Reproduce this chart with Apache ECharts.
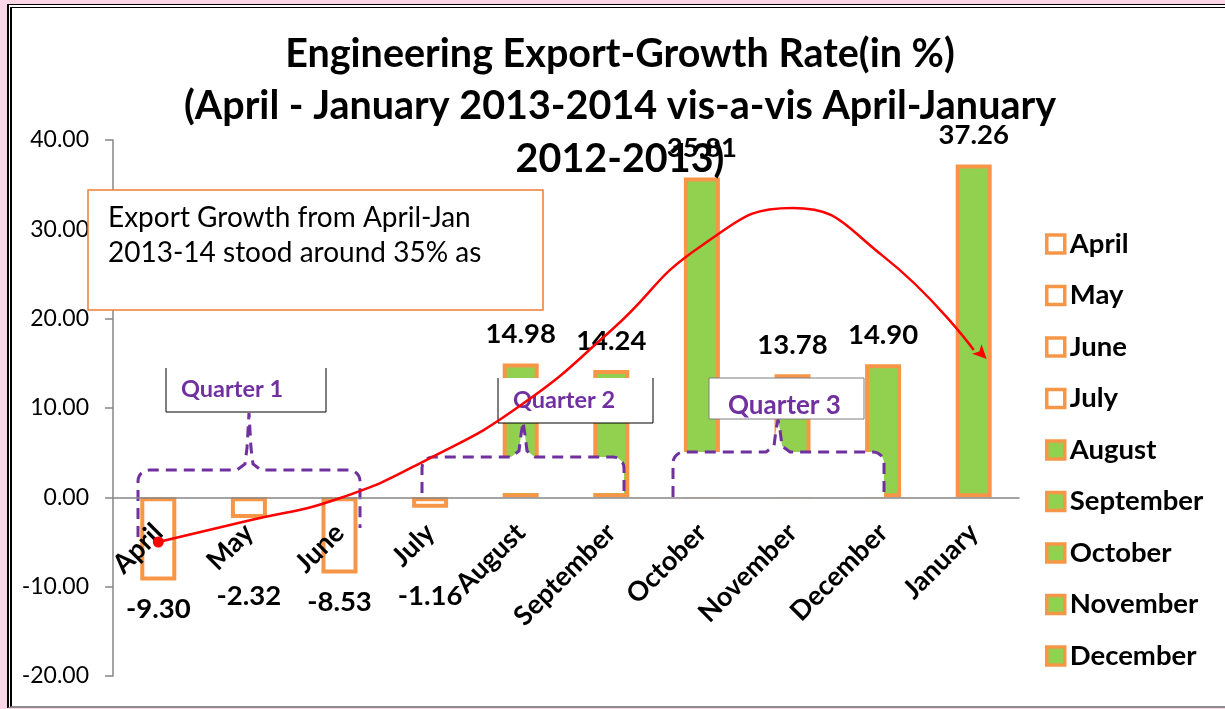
<!DOCTYPE html>
<html>
<head>
<meta charset="utf-8">
<script src="https://cdn.jsdelivr.net/npm/echarts@6/dist/echarts.min.js"></script>
<style>
    html, body { margin: 0; padding: 0; background: #fcd5e7; }
    #panel {
        position: absolute; left: 7px; top: 4px; width: 1230px; height: 698px;
        background: #fff;
        border-left: 5px double #000;
        border-top: 4px double #000;
        border-bottom: 2px solid #8c8c8c;
    }
    #chart { position: absolute; left: 0; top: 0; width: 1225px; height: 709px; }
</style>
</head>
<body>
<div id="panel"></div>
<div id="chart"></div>
<script>
// 数据
const months = ['April', 'May', 'June', 'July', 'August', 'September', 'October', 'November', 'December', 'January'];
const growth = [-9.30, -2.32, -8.53, -1.16, 14.98, 14.24, 35.81, 13.78, 14.90, 37.26];
// hand drawn red trend curve, read at each month
const trend = [-5.0, -2.6, -0.1, 4.4, 10.3, 18.7, 28.2, 32.4, 27.0, 16.5];
const legendMonths = months.slice(0, 9);

const ORANGE = '#f79646';
const GREEN = '#92d050';
const PURPLE = '#7030a0';
const FONT = 'Lato';

const yMin = -20, yMax = 40, yStep = 10;
const gridTop = 140, gridBottom = 33;
const unitPx = (709 - gridTop - gridBottom) / (yMax - yMin);

var myChart = echarts.init(document.getElementById('chart'));

// 标签位置: 负值放在柱子下方, 但不要压住月份名
function barLabel(v) {
    var style = {
        show: true,
        fontFamily: FONT,
        fontWeight: 'bold',
        fontSize: 27.5,
        color: '#000',
        formatter: function (p) { return p.value.toFixed(2); }
    };
    if (v >= 0) {
        style.position = 'top';
        style.distance = 15;
    } else {
        style.position = 'bottom';
        style.distance = Math.max(15, 85 - Math.abs(v) * unitPx);
    }
    return style;
}

// 大括号 (虚线), 圆角用几个点近似
function bracePoints(xl, xr, yTop, yEndL, yEndR, xPeak, yPeak) {
    var r = 11, pts = [];
    pts.push([xl, yEndL]);
    for (var k = 0; k <= 6; k++) {
        var a = Math.PI - k * Math.PI / 12;
        pts.push([xl + r + r * Math.cos(a), yTop + r - r * Math.sin(a)]);
    }
    pts.push([xPeak - 12, yTop]);
    pts.push([xPeak - 4, yTop - 6]);
    pts.push([xPeak - 2, yTop - 22]);
    pts.push([xPeak, yPeak]);
    pts.push([xPeak + 2, yTop - 22]);
    pts.push([xPeak + 4, yTop - 6]);
    pts.push([xPeak + 12, yTop]);
    for (var k2 = 0; k2 <= 6; k2++) {
        var b = Math.PI / 2 - k2 * Math.PI / 12;
        pts.push([xr - r + r * Math.cos(b), yTop + r - r * Math.sin(b)]);
    }
    pts.push([xr, yEndR]);
    return pts;
}

var series = months.map(function (m, i) {
    var v = growth[i];
    return {
        name: m,
        type: 'bar',
        barWidth: 36,
        barGap: '-100%',
        z: 2,
        itemStyle: {
            color: v < 0 ? '#fff' : GREEN,
            borderColor: ORANGE,
            borderWidth: 4
        },
        label: barLabel(v),
        data: months.map(function (_, j) { return j === i ? v : '-'; })
    };
});

series.push({
    name: 'trend',
    type: 'line',
    smooth: 0.5,
    z: 30,
    symbol: 'none',
    silent: true,
    lineStyle: { color: '#ff0000', width: 2.5 },
    itemStyle: { color: '#ff0000' },
    data: trend.map(function (v, i) {
        if (i === 0) return { value: v, symbol: 'circle', symbolSize: 11 };
        if (i === trend.length - 1) return { value: v, symbol: 'arrow', symbolSize: [10, 14], symbolRotate: -135, symbolOffset: [13, 9] };
        return v;
    })
});

var option = {
    animation: false,
    title: {
        text: 'Engineering Export-Growth Rate(in %)\n(April - January 2013-2014 vis-a-vis April-January\n2012-2013)',
        left: 615,
        top: 23,
        textAlign: 'center',
        textStyle: {
            fontFamily: FONT,
            fontWeight: 'bold',
            fontSize: 39.5,
            lineHeight: 52.5,
            color: '#000'
        }
    },
    legend: {
        orient: 'vertical',
        left: 1040,
        top: 225,
        icon: 'rect',
        itemWidth: 18,
        itemHeight: 18,
        itemGap: 23.5,
        textStyle: { fontFamily: FONT, fontWeight: 'bold', fontSize: 27.5, lineHeight: 27, color: '#000' },
        data: legendMonths.map(function (m, i) {
            return {
                name: m,
                itemStyle: { color: growth[i] < 0 ? '#fff' : GREEN, borderColor: ORANGE, borderWidth: 3.5 }
            };
        })
    },
    grid: { left: 113, right: 206, top: gridTop, bottom: gridBottom, containLabel: false, outerBoundsMode: 'none' },
    xAxis: {
        type: 'category',
        data: months,
        z: 12,
        // 轴放在 0 的位置
        offset: yMin * unitPx,
        axisLine: { onZero: false, lineStyle: { color: '#868686', width: 1.5 } },
        axisTick: { length: 8, lineStyle: { color: '#868686', width: 1.5 } },
        axisLabel: {
            interval: 0,
            rotate: 45,
            margin: 31,
            fontFamily: FONT,
            fontWeight: 'bold',
            fontSize: 27,
            color: '#000'
        }
    },
    yAxis: {
        type: 'value',
        min: yMin,
        max: yMax,
        interval: yStep,
        splitLine: { show: false },
        axisLine: { show: true, lineStyle: { color: '#868686', width: 1.5 } },
        axisTick: { show: true, length: 8, lineStyle: { color: '#868686', width: 1.5 } },
        axisLabel: {
            margin: 24,
            fontFamily: FONT,
            fontSize: 23,
            color: '#000',
            formatter: function (v) { return v.toFixed(2); }
        }
    },
    graphic: [
        // 说明文字框
        {
            type: 'rect', z: 20,
            shape: { x: 88, y: 190, width: 455, height: 120 },
            style: { fill: '#fff', stroke: '#ed7d31', lineWidth: 1.5 }
        },
        {
            type: 'text', z: 21, x: 108, y: 200,
            style: {
                text: 'Export Growth from April-Jan\n2013-14 stood around 35% as',
                fontFamily: FONT, fontSize: 28, lineHeight: 35,
                fill: '#000', verticalAlign: 'top'
            }
        },
        // Quarter 1
        {
            type: 'polyline', z: 5,
            shape: { points: bracePoints(138, 360, 470, 537, 528, 249, 413) },
            style: { fill: 'none', stroke: PURPLE, lineWidth: 3, lineDash: [11, 7] }
        },
        {
            type: 'rect', z: 6,
            shape: { x: 166, y: 368, width: 160, height: 44 },
            style: { fill: '#fff' }
        },
        {
            type: 'polyline', z: 7,
            shape: { points: [[166, 368], [166, 412], [326, 412], [326, 368]] },
            style: { stroke: '#000', lineWidth: 1, fill: 'none' }
        },
        {
            type: 'text', z: 8, x: 181, y: 389,
            style: { text: 'Quarter 1', fontFamily: FONT, fontWeight: 'bold', fontSize: 23.5, fill: PURPLE, verticalAlign: 'middle' }
        },
        // Quarter 2
        {
            type: 'polygon', z: 5,
            shape: { points: bracePoints(422, 624, 457, 493, 493, 523, 422) },
            style: { fill: '#fff' }
        },
        {
            type: 'polyline', z: 5,
            shape: { points: bracePoints(422, 624, 457, 493, 493, 523, 422) },
            style: { fill: 'none', stroke: PURPLE, lineWidth: 3, lineDash: [11, 7] }
        },
        {
            type: 'rect', z: 6,
            shape: { x: 498, y: 378, width: 155, height: 45 },
            style: { fill: '#fff' }
        },
        {
            type: 'polyline', z: 7,
            shape: { points: [[498, 378], [498, 423], [653, 423], [653, 378]] },
            style: { stroke: '#000', lineWidth: 1, fill: 'none' }
        },
        {
            type: 'text', z: 8, x: 513, y: 400,
            style: { text: 'Quarter 2', fontFamily: FONT, fontWeight: 'bold', fontSize: 23.5, fill: PURPLE, verticalAlign: 'middle' }
        },
        // Quarter 3
        {
            type: 'polygon', z: 5,
            shape: { points: bracePoints(673, 884, 452, 497, 497, 778, 420) },
            style: { fill: '#fff' }
        },
        {
            type: 'polyline', z: 5,
            shape: { points: bracePoints(673, 884, 452, 497, 497, 778, 420) },
            style: { fill: 'none', stroke: PURPLE, lineWidth: 3, lineDash: [11, 7] }
        },
        {
            type: 'rect', z: 6,
            shape: { x: 709, y: 378, width: 155, height: 41 },
            style: { fill: '#fff', stroke: '#7f7f7f', lineWidth: 1 }
        },
        {
            type: 'text', z: 8, x: 728, y: 406,
            style: { text: 'Quarter 3', fontFamily: FONT, fontWeight: 'bold', fontSize: 26, fill: PURPLE, verticalAlign: 'middle' }
        }
    ],
    series: series
};

myChart.setOption(option);
</script>
</body>
</html>
